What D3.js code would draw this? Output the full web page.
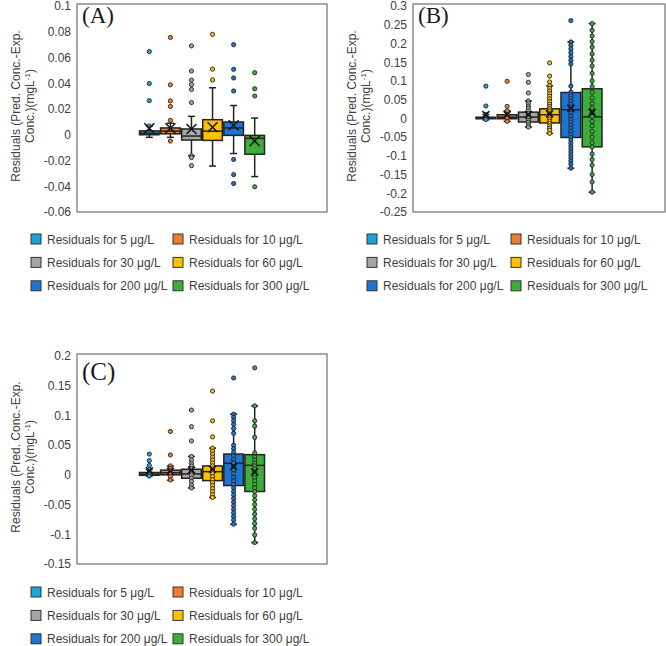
<!DOCTYPE html>
<html>
<head>
<meta charset="utf-8">
<script src="https://cdn.jsdelivr.net/npm/d3@7"></script>
<style>
  body { margin: 0; background: #fff; }
  text { font-family: "Liberation Sans", Arial, sans-serif; }
</style>
</head>
<body>
<svg id="chart" width="666" height="646"></svg>
<script>
// series (same in every panel)
const seriesNames = ["Residuals for 5 μg/L", "Residuals for 10 μg/L", "Residuals for 30 μg/L",
                     "Residuals for 60 μg/L", "Residuals for 200 μg/L", "Residuals for 300 μg/L"];
const seriesColors = ["#1ea3e0", "#ee7d2e", "#a6a6a6", "#ffc000", "#1f74d0", "#3dae3b"];

// box stats per series: [whiskerLow, q1, median, q3, whiskerHigh, mean]
const statsA = [
  [-0.002, 0.0, 0.0012, 0.003, 0.0066, 0.005],
  [-0.002, 0.0007, 0.0028, 0.0053, 0.009, 0.005],
  [-0.0164, -0.0041, -0.001, 0.0045, 0.0143, 0.0045],
  [-0.0243, -0.0044, 0.0028, 0.0117, 0.0365, 0.0058],
  [-0.0146, -0.0005, 0.0053, 0.0099, 0.0227, 0.0074],
  [-0.0325, -0.0151, -0.0028, -0.0005, 0.013, -0.0049]
];
// panel A shows outliers only
const pointsA = [
  [0.0646, 0.0398, 0.0265, 0.0068],
  [0.0756, 0.0388, 0.0263, 0.022, 0.0112, -0.0049],
  [0.069, 0.0495, 0.0424, 0.039, 0.0352, 0.025, -0.0164, -0.0177, -0.024],
  [0.078, 0.051, 0.0426],
  [0.07, 0.0508, 0.0441, 0.034, -0.0192, -0.031, -0.0379],
  [0.0482, 0.0357, 0.0301, -0.0404]
];

const statsB = [
  [-0.004, -0.001, 0.001, 0.003, 0.01, 0.01],
  [-0.008, -0.001, 0.003, 0.0097, 0.02, 0.01],
  [-0.023, -0.0097, 0.0035, 0.0166, 0.0465, 0.01],
  [-0.04, -0.0123, 0.0097, 0.0255, 0.087, 0.012],
  [-0.133, -0.051, 0.023, 0.069, 0.204, 0.027],
  [-0.197, -0.076, 0.004, 0.079, 0.253, 0.016]
];
const pointsB = [
  [0.086, 0.033, 0.01, 0.003, 0.001, -0.001, -0.003],
  [0.099, 0.032, 0.02, 0.01, 0.001, -0.008],
  [0.117, 0.096, 0.068, 0.0465, 0.04, 0.033, 0.027, 0.02, 0.013, 0.008, 0.001, -0.005, -0.0105, -0.017, -0.023],
  [0.148, 0.113, 0.097, 0.087, 0.08, 0.073, 0.066, 0.059, 0.052, 0.045, 0.038, 0.032, 0.026, 0.02,
   0.014, 0.009, 0.004, -0.002, -0.008, -0.014, -0.02, -0.026, -0.032, -0.04],
  [0.261, 0.204, 0.195, 0.185, 0.175, 0.165, 0.155, 0.145, 0.086, 0.07, 0.062, 0.054, 0.046, 0.038,
   0.03, 0.022, 0.014, 0.006, -0.002, -0.01, -0.018, -0.026, -0.034, -0.042, -0.05, -0.058, -0.066,
   -0.074, -0.082, -0.09, -0.098, -0.106, -0.114, -0.122, -0.133],
  [0.253, 0.235, 0.22, 0.205, 0.19, 0.172, 0.155, 0.14, 0.12, 0.1, 0.085, 0.07, 0.055, 0.04, 0.028,
   0.016, 0.005, -0.008, -0.02, -0.035, -0.05, -0.065, -0.076, -0.095, -0.11, -0.125, -0.15, -0.17, -0.197]
];

const statsC = [
  [-0.002, -0.0007, 0.001, 0.004, 0.009, 0.007],
  [-0.009, 0.0, 0.0035, 0.008, 0.015, 0.006],
  [-0.022, -0.0057, 0.0015, 0.0094, 0.031, 0.008],
  [-0.038, -0.0097, 0.0054, 0.015, 0.045, 0.0094],
  [-0.083, -0.018, 0.0195, 0.035, 0.102, 0.014],
  [-0.114, -0.028, 0.016, 0.034, 0.116, 0.005]
];
const pointsC = [
  [0.035, 0.024, 0.016, 0.009, 0.004, 0.001, -0.002],
  [0.073, 0.0335, 0.015, 0.011, 0.007, 0.0027, -0.003, -0.0086],
  [0.109, 0.081, 0.057, 0.031, 0.025, 0.0195, 0.015, 0.011, 0.0055, 0.0, -0.0056, -0.011, -0.017, -0.022],
  [0.141, 0.091, 0.064, 0.045, 0.04, 0.035, 0.03, 0.025, 0.02, 0.015, 0.01, 0.006, 0.002, -0.003,
   -0.008, -0.013, -0.018, -0.023, -0.028, -0.033, -0.038],
  [0.163, 0.102, 0.097, 0.091, 0.085, 0.078, 0.07, 0.05, 0.044, 0.038, 0.032, 0.026, 0.02, 0.014,
   0.008, 0.002, -0.004, -0.01, -0.016, -0.022, -0.028, -0.034, -0.04, -0.046, -0.052, -0.058,
   -0.064, -0.07, -0.076, -0.083],
  [0.18, 0.116, 0.091, 0.082, 0.063, 0.037, 0.03, 0.025, 0.02, 0.015, 0.01, 0.005, 0.0, -0.005,
   -0.01, -0.016, -0.022, -0.028, -0.035, -0.042, -0.05, -0.058, -0.066, -0.074, -0.082, -0.09,
   -0.101, -0.114]
];

// y tick labels
const ticksA = ["-0.06", "-0.04", "-0.02", "0", "0.02", "0.04", "0.06", "0.08", "0.1"];
const ticksB = ["-0.25", "-0.2", "-0.15", "-0.1", "-0.05", "0", "0.05", "0.1", "0.15", "0.2", "0.25", "0.3"];
const ticksC = ["-0.15", "-0.1", "-0.05", "0", "0.05", "0.1", "0.15", "0.2"];

var svg = d3.select("#chart");

const panels = [
  {label: "(A)", stats: statsA, points: pointsA, ticks: ticksA, x0: 77, x1: 327, y0: 6, y1: 212,
   labelSize: 23, labelDy: 17, legendTop: 239, leg1: 31, leg2: 173, markSize: 5},
  {label: "(B)", stats: statsB, points: pointsB, ticks: ticksB, x0: 413, x1: 665, y0: 6, y1: 212,
   labelSize: 23, labelDy: 17, legendTop: 239, leg1: 367, leg2: 511, markSize: 3.5},
  {label: "(C)", stats: statsC, points: pointsC, ticks: ticksC, x0: 77, x1: 327, y0: 356, y1: 564,
   labelSize: 25, labelDy: 24, legendTop: 592, leg1: 31, leg2: 173, markSize: 3.5}
];

panels.forEach(p => {
  var g = svg.append("g");
  var tickVals = p.ticks.map(Number);
  var y = d3.scaleLinear()
            .domain(d3.extent(tickVals))
            .range([p.y1, p.y0]);
  var w = p.x1 - p.x0;
  // excel style: one category, gap width 100%
  var x = d3.scaleBand()
            .domain(seriesNames)
            .range([p.x0 + w / 4, p.x1 - w / 4])
            .paddingInner(0.07);
  var bw = x.bandwidth();

  // y axis labels
  var axis = g.append("g")
              .attr("transform", "translate(" + p.x0 + ",0)")
              .call(d3.axisLeft(y).tickValues(tickVals).tickSize(0).tickPadding(6)
                      .tickFormat((d, i) => p.ticks[i]));
  axis.select(".domain").remove();
  axis.selectAll("text").style("font-size", "12px").attr("fill", "#404040")
      .style("font-family", '"Liberation Sans", Arial, sans-serif');

  // plot border
  g.append("rect")
   .attr("x", p.x0).attr("y", p.y0 - 2)
   .attr("width", w).attr("height", p.y1 - p.y0 + 2)
   .attr("fill", "none").attr("stroke", "#8c8c8c").attr("stroke-width", 1.5);

  // axis title
  var ym = (p.y0 + p.y1) / 2 - 3;
  var tx1 = p.x0 - 57, tx2 = p.x0 - 43;
  g.append("text")
   .attr("transform", "translate(" + tx1 + "," + ym + ") rotate(-90)")
   .attr("text-anchor", "middle").style("font-size", "12px").attr("fill", "#404040")
   .text("Residuals (Pred. Conc.-Exp.");
  var t2 = g.append("text")
   .attr("transform", "translate(" + tx2 + "," + ym + ") rotate(-90)")
   .attr("text-anchor", "middle").style("font-size", "12px").attr("fill", "#404040");
  t2.append("tspan").text("Conc.)(mgL");
  t2.append("tspan").attr("dy", -4).style("font-size", "8px").text("-1");
  t2.append("tspan").attr("dy", 4).text(")");

  // panel label
  g.append("text")
   .attr("x", p.x0 + 5).attr("y", p.y0 + p.labelDy)
   .style("font-family", '"Liberation Serif", "Times New Roman", serif')
   .style("font-size", p.labelSize + "px").attr("fill", "#1a1a1a")
   .text(p.label);

  // boxes
  seriesNames.forEach((name, i) => {
    var s = p.stats[i];
    var cx = x(name) + bw / 2;
    var bg = g.append("g");
    // whiskers
    bg.append("line").attr("x1", cx).attr("x2", cx).attr("y1", y(s[3])).attr("y2", y(s[4]))
      .attr("stroke", "#222").attr("stroke-width", 1.5);
    bg.append("line").attr("x1", cx).attr("x2", cx).attr("y1", y(s[1])).attr("y2", y(s[0]))
      .attr("stroke", "#222").attr("stroke-width", 1.5);
    [s[0], s[4]].forEach(v => {
      bg.append("line").attr("x1", cx - 3.5).attr("x2", cx + 3.5).attr("y1", y(v)).attr("y2", y(v))
        .attr("stroke", "#222").attr("stroke-width", 1.5);
    });
    bg.append("rect")
      .attr("x", x(name)).attr("y", y(s[3]))
      .attr("width", bw).attr("height", Math.max(1, y(s[1]) - y(s[3])))
      .attr("fill", seriesColors[i]).attr("stroke", "#222").attr("stroke-width", 1.5);
    bg.append("line").attr("x1", x(name)).attr("x2", x(name) + bw)
      .attr("y1", y(s[2])).attr("y2", y(s[2]))
      .attr("stroke", "#222").attr("stroke-width", 1.5);

    // points
    bg.selectAll("circle")
      .data(p.points[i])
      .enter().append("circle")
      .attr("cx", cx).attr("cy", d => y(d))
      .attr("r", 2.1)
      .attr("fill", seriesColors[i]).attr("stroke", "#222").attr("stroke-width", 0.9);

    // mean marker
    var m = p.markSize, my = y(s[5]);
    bg.append("path")
      .attr("d", "M" + (cx - m) + "," + (my - m) + "L" + (cx + m) + "," + (my + m) +
                 "M" + (cx - m) + "," + (my + m) + "L" + (cx + m) + "," + (my - m))
      .attr("stroke", "#111").attr("stroke-width", 1.5);
  });

  // legend
  var lg = g.append("g");
  seriesNames.forEach((name, i) => {
    var col = i % 2, row = Math.floor(i / 2);
    var lx = col == 0 ? p.leg1 : p.leg2;
    var ly = p.legendTop + row * 23.4;
    lg.append("rect")
      .attr("x", lx).attr("y", ly - 5)
      .attr("width", 10).attr("height", 10)
      .attr("fill", seriesColors[i]).attr("stroke", "#333").attr("stroke-width", 1);
    lg.append("text")
      .attr("x", lx + 16).attr("y", ly + 4.5)
      .style("font-size", "12px").attr("fill", "#404040")
      .text(name);
  });
});
</script>
</body>
</html>
